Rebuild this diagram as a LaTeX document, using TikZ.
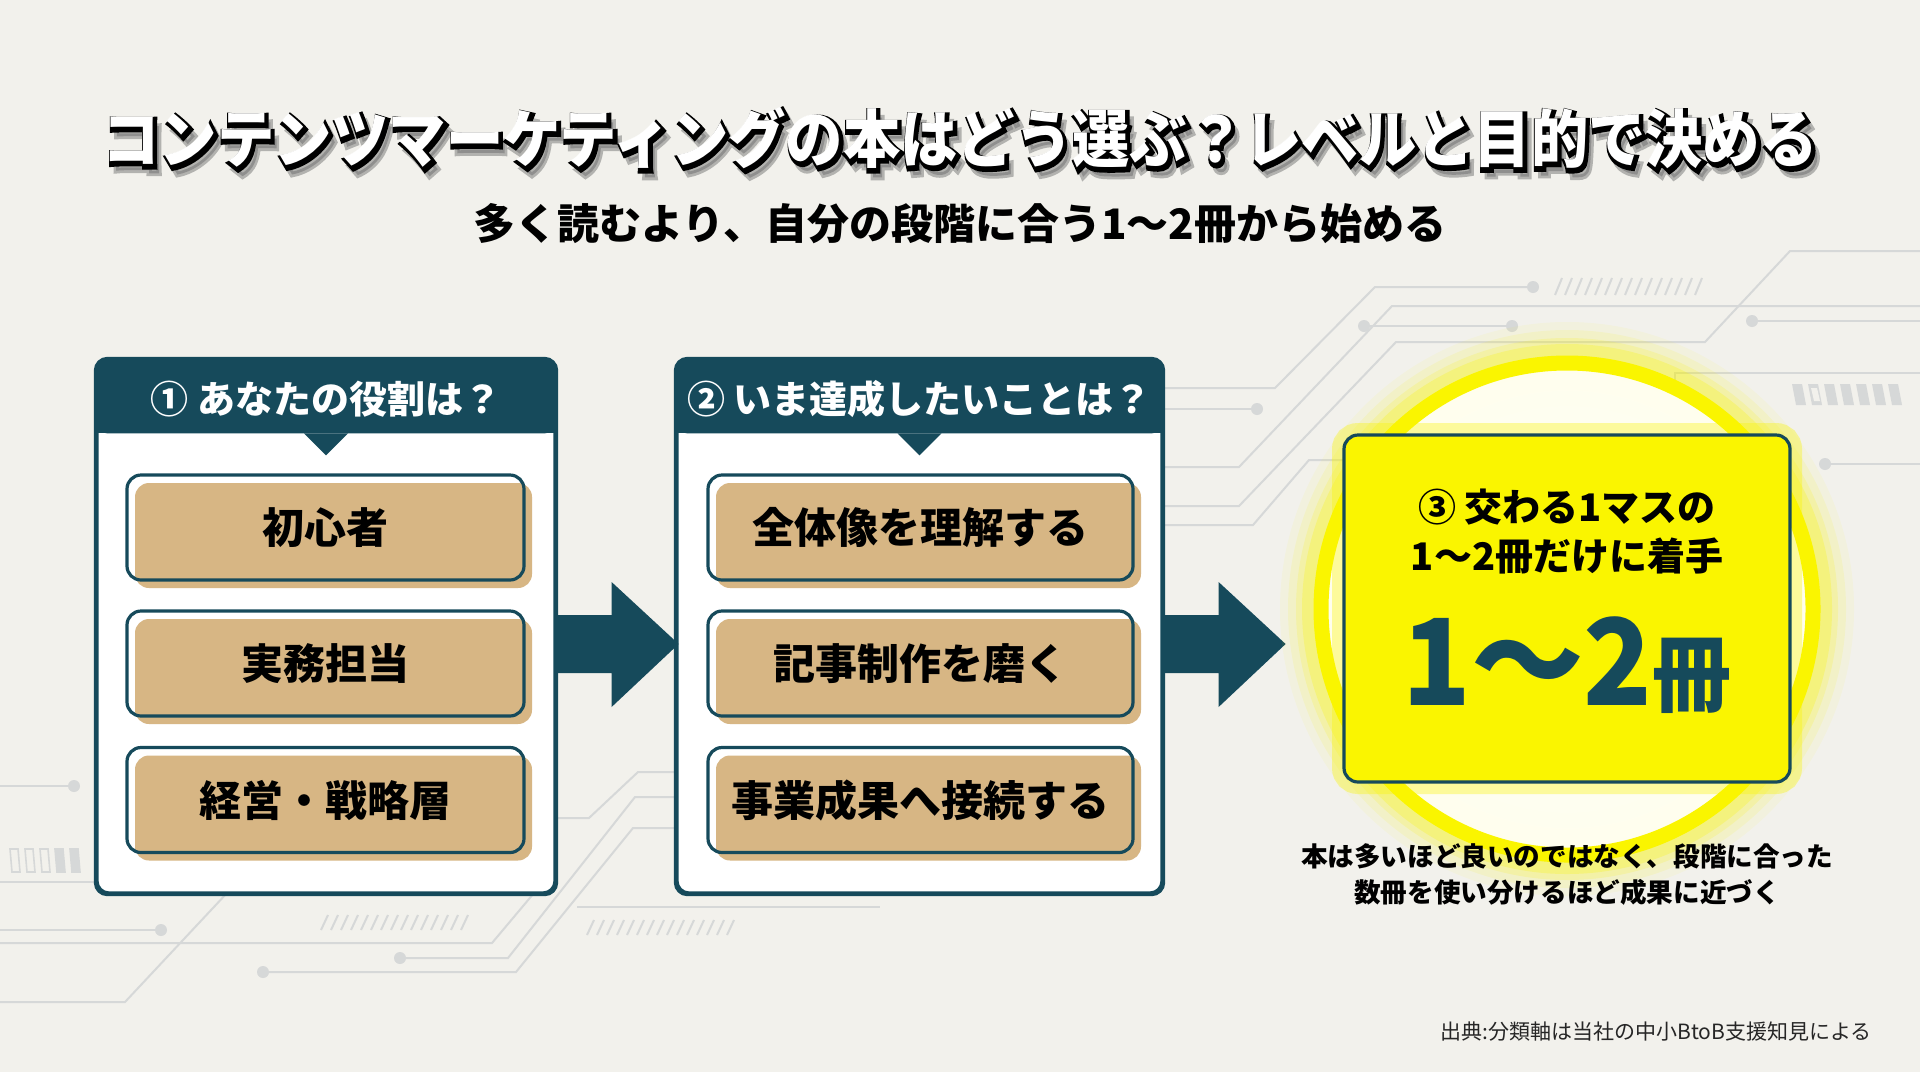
\documentclass[tikz,border=0pt]{standalone}
\usepackage{fontspec}
\setmainfont{Noto Sans CJK JP}
\newfontfamily\outlinefont{Noto Sans CJK JP}[BoldFeatures={FakeBold=9}]
\usetikzlibrary{positioning,calc,shadows}

\definecolor{bgcol}{HTML}{F2F1EC}
\definecolor{tealcol}{HTML}{164A5B}
\definecolor{tancol}{HTML}{D7B684}
\definecolor{hiyellow}{HTML}{FAF500}
\definecolor{wirecol}{HTML}{D6D8D8}

\pgfdeclareradialshading{ringglow}{\pgfpoint{0bp}{0bp}}{%
  color(0bp)=(white!85!bgcol); color(24bp)=(hiyellow!7!white);
  color(36bp)=(hiyellow!25!white); color(44bp)=(hiyellow!65!white);
  color(50bp)=(hiyellow)}

\newcommand\headline{\scalebox{0.91}[1]{コンテンツマーケティングの本はどう選ぶ\symbol{"FF1F}レベルと目的で決める}}

\begin{document}
\begin{tikzpicture}[x=0.5pt,y=-0.5pt,
    wire/.style={draw=wirecol,line width=1pt},
    wiredot/.style={fill=wirecol},
    titletext/.style={font=\fontsize{31.5}{34}\selectfont\bfseries},
    panel/.style={draw=tealcol,line width=1.6pt,fill=white,rounded corners=6pt,minimum height=266.5pt},
    headtext/.style={text=white,font=\fontsize{19}{22}\selectfont\bfseries},
    choice/.style={draw=tealcol,line width=1.6pt,rounded corners=7pt,minimum height=52.5pt,
      drop shadow={shadow xshift=4pt,shadow yshift=-4pt,fill=tancol,opacity=1},
      font=\fontsize{21}{24}\selectfont\bfseries},
    pickbox/.style={draw=tealcol,line width=1.6pt,fill=hiyellow,rounded corners=7pt,
      minimum width=223pt,minimum height=173.5pt,
      preaction={draw=hiyellow,line width=12pt,opacity=0.35}},
    picktext/.style={font=\fontsize{19}{22}\selectfont\bfseries}]
  \useasboundingbox (0,0) rectangle (1920,1072);
  \fill[bgcol] (0,0) rectangle (1920,1072);

  % circuit lines, top right
  \draw[wire] (1162,388) -- (1275,388) -- (1375,287) -- (1533,287);
  \draw[wire] (1162,409) -- (1257,409);
  \draw[wire] (1162,467) -- (1239,467) -- (1392,306) -- (1920,306);
  \draw[wire] (1364,326) -- (1512,326);
  \draw[wire] (1162,506) -- (1239,506) -- (1396,342) -- (1705,342) -- (1790,251) -- (1920,251);
  \draw[wire] (1752,321) -- (1920,321);
  \draw[wire] (1675,395) -- (1675,373) -- (1920,373);
  \draw[wire] (1825,464) -- (1920,464);
  \draw[wire] (1162,525) -- (1253,525) -- (1309,460) -- (1350,460);
  \foreach \p in {(1533,287),(1257,409),(1364,326),(1512,326),(1752,321),(1825,464)}
    \fill[wiredot] \p circle[radius=3pt];
  \foreach \i in {0,...,14}
    \draw[wire] (1555+\i*10,295) -- (1562+\i*10,278);
  \foreach \i in {0,...,6}
    \fill[wirecol] (1796+\i*16,405) -- (1806+\i*16,405) -- (1802+\i*16,384) -- (1792+\i*16,384) -- cycle;
  \fill[bgcol] (1814,401) -- (1820,401) -- (1817,388) -- (1811,388) -- cycle;

  % circuit lines, bottom left
  \draw[wire] (0,786) -- (74,786);
  \draw[wire] (0,882) -- (97,882);
  \draw[wire] (0,930) -- (161,930);
  \draw[wire] (227,893) -- (125,1002) -- (0,1002);
  \draw[wire] (0,943) -- (492,943) -- (555,868);
  \draw[wire] (555,818) -- (589,818) -- (638,772) -- (677,772);
  \draw[wire] (400,958) -- (508,958) -- (635,797) -- (677,797);
  \draw[wire] (263,972) -- (516,972) -- (633,828) -- (677,828);
  \draw[wire] (577,907) -- (880,907);
  \foreach \p in {(74,786),(161,930),(400,958),(263,972)}
    \fill[wiredot] \p circle[radius=3pt];
  \foreach \i in {0,...,14} {
    \draw[wire] (321+\i*10,930) -- (328+\i*10,915);
    \draw[wire] (587+\i*10,935) -- (594+\i*10,920);
  }
  \foreach \i in {0,...,4}
    \draw[wirecol,line width=0.8pt] (12+\i*15,872) -- (20+\i*15,872) -- (18+\i*15,849) -- (10+\i*15,849) -- cycle;
  \foreach \i in {3,4}
    \fill[wirecol] (12+\i*15,872) -- (20+\i*15,872) -- (18+\i*15,849) -- (10+\i*15,849) -- cycle;

  % title: shadow, outline, face
  \coordinate (titlepos) at (960,138);
  \node[titletext,text=black!60,opacity=0.45,xshift=3pt,yshift=-4.5pt] at (titlepos) {\outlinefont\headline};
  \node[titletext,text=black,xshift=0.8pt,yshift=-1.2pt] at (titlepos) {\outlinefont\headline};
  \node[titletext,text=white] (title) at (titlepos) {\headline};
  \node[font=\fontsize{21}{24}\selectfont\bfseries] (subtitle) at (960,224)
    {多く読むより、自分の段階に合う1〜2冊から始める};

  % panel 1
  \node[panel,minimum width=229pt] (role) at (326,626.5) {};
  \fill[tealcol,rounded corners=6pt] (role.north west) rectangle ([yshift=-37.5pt]role.north east);
  \fill[tealcol] ([yshift=-20pt]role.north west) rectangle ([yshift=-37.5pt]role.north east);
  \fill[tealcol] ([xshift=-11pt,yshift=-37.5pt]role.north) -- ([yshift=-48.5pt]role.north)
    -- ([xshift=11pt,yshift=-37.5pt]role.north) -- cycle;
  \draw[tealcol,line width=1.6pt,rounded corners=6pt] (role.north west) rectangle (role.south east);
  \node[headtext] (roleh) at (326,399) {① あなたの役割は\symbol{"FF1F}};
  \node[choice,minimum width=198.5pt] (r1) at (325.5,527.5) {初心者};
  \node[choice,minimum width=198.5pt] (r2) at (325.5,663.5) {実務担当};
  \node[choice,minimum width=198.5pt] (r3) at (325.5,800) {経営・戦略層};

  % panel 2
  \node[panel,minimum width=242.5pt] (goal) at (919.5,626.5) {};
  \fill[tealcol,rounded corners=6pt] (goal.north west) rectangle ([yshift=-37.5pt]goal.north east);
  \fill[tealcol] ([yshift=-20pt]goal.north west) rectangle ([yshift=-37.5pt]goal.north east);
  \fill[tealcol] ([xshift=-11pt,yshift=-37.5pt]goal.north) -- ([yshift=-48.5pt]goal.north)
    -- ([xshift=11pt,yshift=-37.5pt]goal.north) -- cycle;
  \draw[tealcol,line width=1.6pt,rounded corners=6pt] (goal.north west) rectangle (goal.south east);
  \node[headtext] (goalh) at (919.5,399) {② いま達成したいことは\symbol{"FF1F}};
  \node[choice,minimum width=212.5pt] (g1) at (920.5,527.5) {全体像を理解する};
  \node[choice,minimum width=212.5pt] (g2) at (920.5,663.5) {記事制作を磨く};
  \node[choice,minimum width=212.5pt] (g3) at (920.5,800) {事業成果へ接続する};

  % block arrows
  \foreach \s in {role,goal}
    \fill[tealcol] ($(\s.east)+(0,17.5)$) ++(0,-29) -- ++(55,0) -- ++(0,-33) -- ++(67,62)
      -- ++(-67,63) -- ++(0,-34) -- ++(-55,0) -- cycle;

  % glow and answer box
  \coordinate (glow) at (1567,609);
  \foreach \w/\o in {36/0.06,28/0.1,20/0.16,14/0.25}
    \draw[hiyellow,line width=\w pt,opacity=\o] (glow) circle[radius=125.5pt];
  \fill[shading=ringglow] (glow) circle[radius=125.5pt];
  \draw[hiyellow,line width=7.5pt] (glow) circle[radius=123pt];
  \node[pickbox] (pick) at (1567,608.5) {};
  \node[picktext] (pick1) at (1567,507) {③ 交わる1マスの};
  \node[picktext] (pick2) at (1567,556) {1〜2冊だけに着手};
  \node[anchor=base,text=tealcol,font=\bfseries] (count) at (1567,705)
    {\scalebox{0.94}[1]{\fontsize{60}{60}\selectfont 1〜2\fontsize{42}{42}\selectfont 冊}};

  % notes
  \node[align=center,font=\fontsize{13.3}{18}\selectfont\bfseries] (note) at (1567,875)
    {本は多いほど良いのではなく、段階に合った\\数冊を使い分けるほど成果に近づく};
  \node[anchor=east,inner sep=0pt,text=black!85,font=\fontsize{10.5}{12}\selectfont] (source) at (1872,1032)
    {出典:分類軸は当社の中小BtoB支援知見による};
\end{tikzpicture}
\end{document}
